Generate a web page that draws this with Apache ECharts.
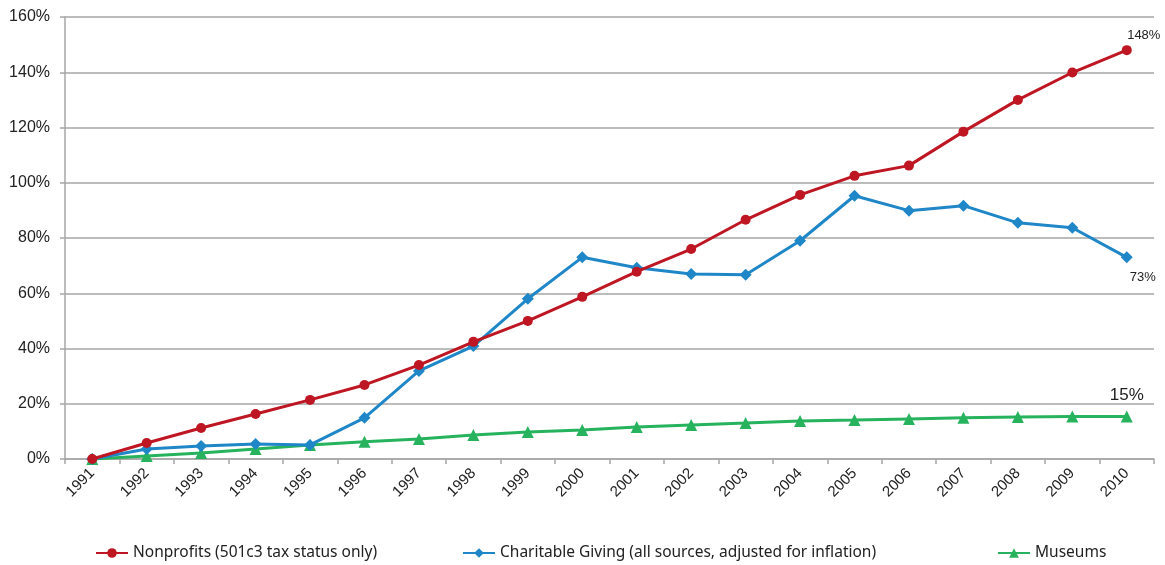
<!DOCTYPE html>
<html><head><meta charset="utf-8">
<script src="https://cdn.jsdelivr.net/npm/echarts@6/dist/echarts.min.js"></script>
<style>html,body{margin:0;padding:0;background:#fff}#c{width:1165px;height:565px}</style>
</head><body><div id="c"></div>
<script>
const years = ['1991','1992','1993','1994','1995','1996','1997','1998','1999','2000','2001','2002','2003','2004','2005','2006','2007','2008','2009','2010'];
const nonprofits = [0,5.8,11.2,16.3,21.4,26.8,34,42.4,50,58.7,67.8,76,86.6,95.6,102.5,106.2,118.5,130,139.9,148];
const charitable = [0,3.6,4.7,5.4,5.1,14.9,31.9,40.9,58,73,69.2,67,66.7,79,95.3,89.9,91.7,85.5,83.7,73];
const museums = [0,1.1,2.2,3.6,5.1,6.2,7.2,8.7,9.8,10.5,11.6,12.3,13,13.8,14.1,14.5,14.9,15.2,15.4,15.4];
const endLabels = ['148%','73%','15%'];
const yTicks = [0,20,40,60,80,100,120,140,160];
const names = ['Nonprofits (501c3 tax status only)','Charitable Giving (all sources, adjusted for inflation)','Museums'];
const colors = ['#BE1622','#1F87C8','#27B35E'];
const AX_FONT = "'Liberation Sans', Arial, sans-serif";

function lastLabel(arr, text, opts){
  return arr.map((v,i)=> i===arr.length-1 ? {value:v, label:Object.assign({show:true, formatter:text, color:'#222', fontFamily:AX_FONT, fontSize:13}, opts)} : v);
}
const chart = echarts.init(document.getElementById('c'));
const legendBase = {bottom: 4, itemWidth: 32, itemHeight: 12, textStyle:{fontFamily:"'Noto Sans', 'Open Sans', sans-serif", fontSize:15.5, color:'#222'}, itemGap: 0, padding:0};
chart.setOption({
  animation:false,
  grid:{left:65, right:11, top:17, bottom:106},
  legend:[
    Object.assign({}, legendBase, {left: 95, data:[names[0]]}),
    Object.assign({}, legendBase, {left: 462, data:[names[1]]}),
    Object.assign({}, legendBase, {left: 997, data:[names[2]]})
  ],
  xAxis:{type:'category', data:years, boundaryGap:true,
    axisLine:{lineStyle:{color:'#A6A6A6', width:1.5}},
    axisTick:{show:true, length:5, lineStyle:{color:'#A6A6A6', width:1.5}},
    axisLabel:{rotate:45, fontFamily:AX_FONT, fontSize:15, color:'#222', margin:12}},
  yAxis:{type:'value', min:0, max:160, interval:20,
    axisLine:{show:true, lineStyle:{color:'#A6A6A6', width:1.5}},
    axisTick:{show:true, length:5, lineStyle:{color:'#A6A6A6', width:1.5}},
    splitLine:{lineStyle:{color:'#A6A6A6', width:1.5}},
    axisLabel:{fontFamily:AX_FONT, fontSize:16, color:'#222', margin:15,
      formatter:v=> yTicks.includes(v) ? v+'%' : ''}},
  series:[
    {name:names[0], type:'line', data:lastLabel(nonprofits,endLabels[0],{position:'top', offset:[17,2]}), symbol:'circle', symbolSize:10,
     itemStyle:{color:colors[0]}, lineStyle:{color:colors[0], width:3}, z:3},
    {name:names[1], type:'line', data:lastLabel(charitable,endLabels[1],{position:'bottom', offset:[16,3]}), symbol:'diamond', symbolSize:12,
     itemStyle:{color:colors[1]}, lineStyle:{color:colors[1], width:3}, z:2},
    {name:names[2], type:'line', data:lastLabel(museums,endLabels[2],{position:'top', offset:[0,-2], fontSize:17}), symbol:'triangle', symbolSize:12,
     itemStyle:{color:colors[2]}, lineStyle:{color:colors[2], width:3}, z:1}
  ]
});
</script></body></html>
